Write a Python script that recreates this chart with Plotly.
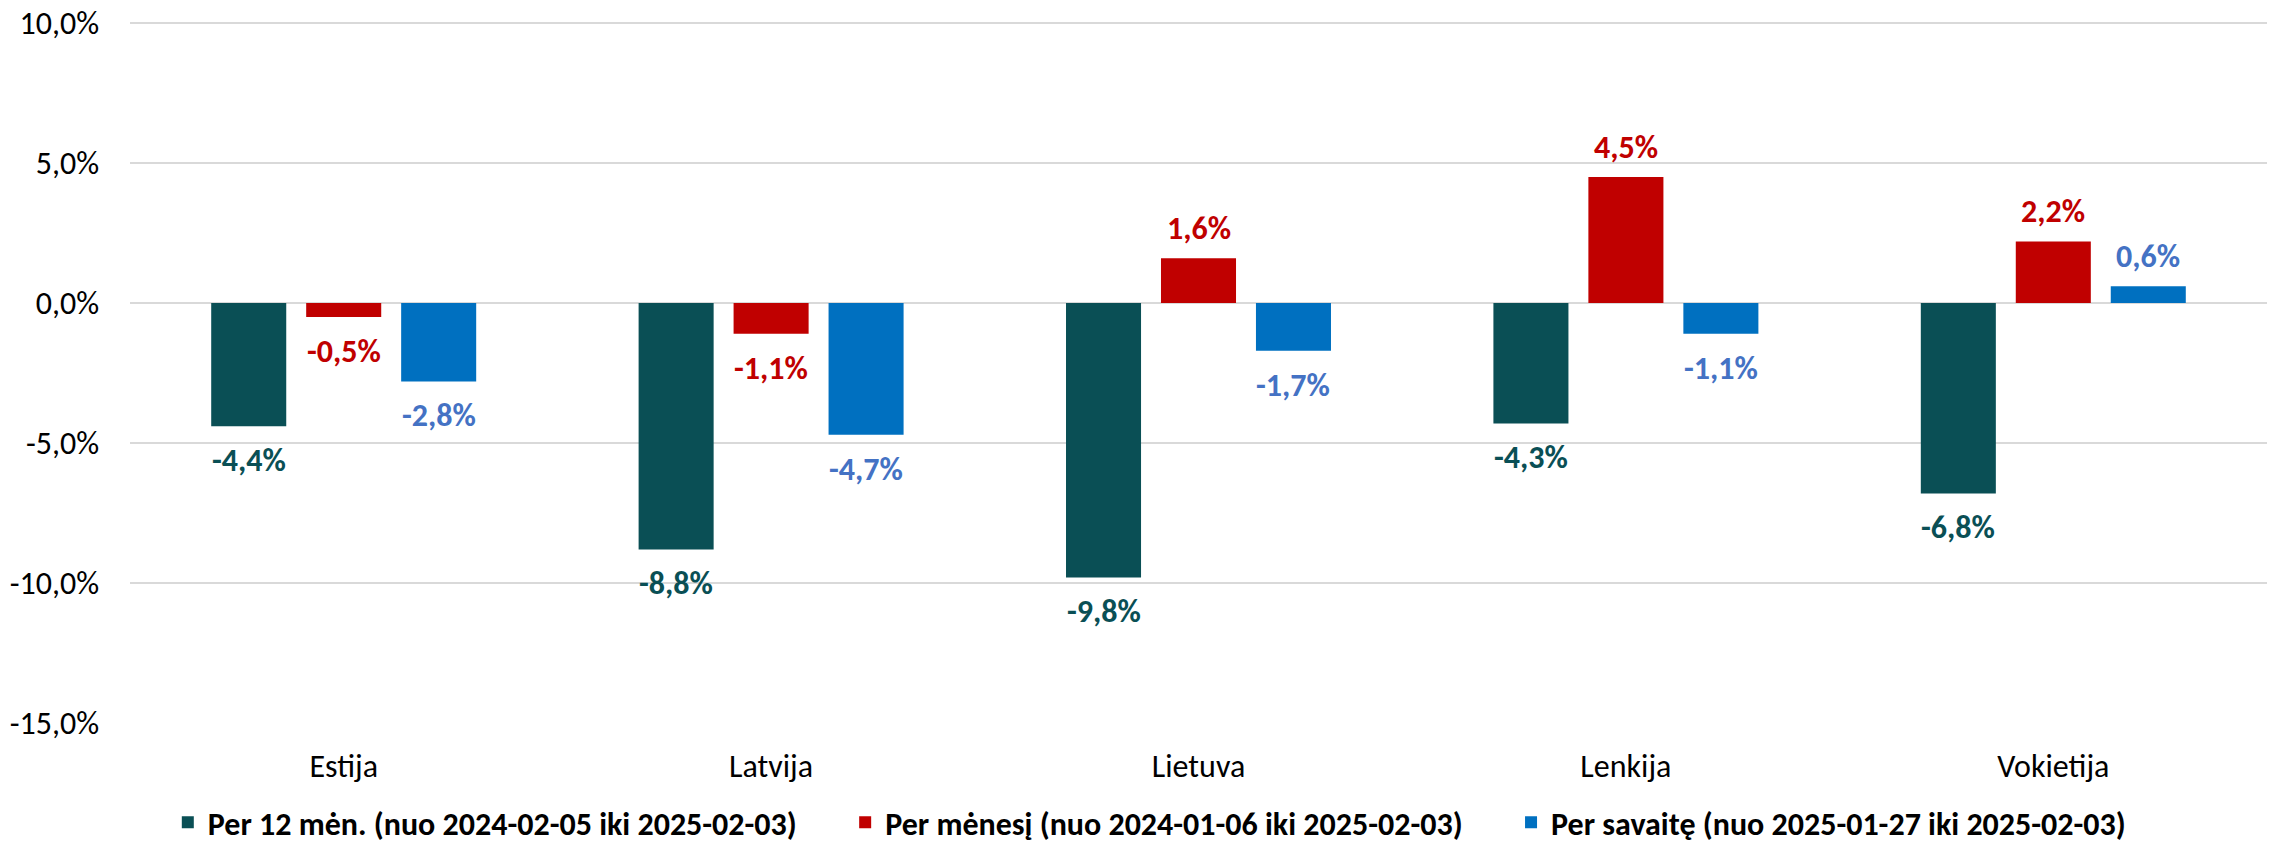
import plotly.graph_objects as go

categories = ["Estija", "Latvija", "Lietuva", "Lenkija", "Vokietija"]
series_names = [
    "Per 12 mėn. (nuo 2024-02-05 iki 2025-02-03)",
    "Per mėnesį (nuo 2024-01-06 iki 2025-02-03)",
    "Per savaitę (nuo 2025-01-27 iki 2025-02-03)",
]
vals_12m = [-4.4, -8.8, -9.8, -4.3, -6.8]
vals_month = [-0.5, -1.1, 1.6, 4.5, 2.2]
vals_week = [-2.8, -4.7, -1.7, -1.1, 0.6]
y_ticks = [-15, -10, -5, 0, 5, 10]

bar_colors = ["#0a4f55", "#c00000", "#0070c0"]
label_colors = ["#0a4f55", "#c00000", "#4472c4"]
series = [vals_12m, vals_month, vals_week]

FONT = "Carlito, Calibri, 'Liberation Sans', Arial, sans-serif"
PAD = "\u00a0" * 6

fig = go.Figure()
for j, (name, vals, col) in enumerate(zip(series_names, series, bar_colors)):
    label = f"<b>{name}</b>" + (PAD if j < 2 else "")
    fig.add_trace(go.Bar(x=categories, y=vals, name=label,
                         marker=dict(color=col, line=dict(width=0))))

bargap = 1 / 3
slot = (1 - bargap) / 3
annotations = []
for k, (vals, col) in enumerate(zip(series, label_colors)):
    for i, v in enumerate(vals):
        txt = f"{v:.1f}".replace(".", ",") + "%"
        annotations.append(dict(
            x=i + (k - 1) * slot, y=v, xref="x", yref="y", text=f"<b>{txt}</b>",
            showarrow=False, font=dict(family=FONT, size=32, color=col),
            yanchor="bottom" if v >= 0 else "top",
            yshift=8 if v >= 0 else -13,
        ))

# page body has an 8px default margin, so the figure is drawn 8px in from the corner
fig.update_layout(
    width=2269, height=835,
    margin=dict(l=122, r=10, t=14, b=120, autoexpand=False),
    paper_bgcolor="white", plot_bgcolor="white",
    barmode="group", bargap=bargap, bargroupgap=0.21,
    font=dict(family=FONT, color="#000000"),
    annotations=annotations,
    showlegend=True,
    legend=dict(orientation="h", x=0.503, xanchor="center", xref="container",
                y=-0.142, yanchor="middle", yref="paper",
                font=dict(family=FONT, size=32, color="#000000"),
                itemwidth=30, traceorder="normal", itemsizing="constant"),
)
fig.update_xaxes(type="category", showgrid=False, showline=False, ticks="",
                 automargin=False, ticklabelstandoff=21,
                 tickfont=dict(family=FONT, size=32, color="#000000"))
fig.update_yaxes(range=[-15, 10.04], tickvals=y_ticks,
                 ticktext=[f"{t:.1f}".replace(".", ",") + "%" for t in y_ticks],
                 showgrid=True, gridcolor="#d9d9d9", gridwidth=1.5,
                 zeroline=True, zerolinecolor="#d9d9d9", zerolinewidth=1.5,
                 showline=False, ticks="", ticklabelstandoff=30, automargin=False,
                 ticklabeloverflow="allow",
                 tickfont=dict(family=FONT, size=32, color="#000000"))

fig.write_html("out.html")
